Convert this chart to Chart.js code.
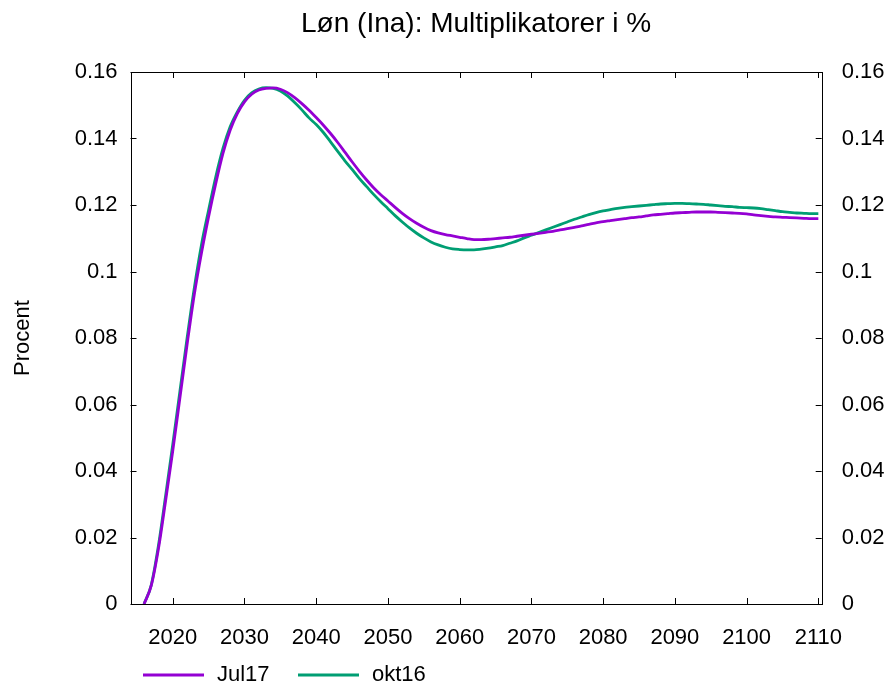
<!DOCTYPE html>
<html lang="da">
<head>
<meta charset="UTF-8">
<title>Løn (Ina): Multiplikatorer i %</title>
<script src="https://cdn.jsdelivr.net/npm/chart.js@4.4.0/dist/chart.umd.min.js"></script>
<style>
  html, body { margin: 0; padding: 0; background: #fff; }
  #wrap { width: 889px; height: 687px; }
</style>
</head>
<body>
<div id="wrap"><canvas id="chart" width="889" height="687"></canvas></div>
<script>
// years 2016..2110
const years = [];
for (let y = 2016; y <= 2110; y++) years.push(y);

const jul17 = [
  0, 0.0055, 0.0165, 0.031, 0.046, 0.062, 0.078, 0.093, 0.1055, 0.1165,
  0.1265, 0.1355, 0.1425, 0.1475, 0.151, 0.1533, 0.1546, 0.1551, 0.1552, 0.1548,
  0.1538, 0.1523, 0.1505, 0.1485, 0.1463, 0.1440, 0.1415, 0.1388, 0.1359, 0.1330,
  0.1302, 0.1276, 0.1252, 0.1231, 0.1212, 0.1193, 0.1175, 0.1159, 0.1145, 0.1133,
  0.1123, 0.1116, 0.1111, 0.1107, 0.1103, 0.1099, 0.1096, 0.1096, 0.1097, 0.1099,
  0.1101, 0.1103, 0.1106, 0.1109, 0.1112, 0.1115, 0.1118, 0.1121, 0.1125, 0.1129,
  0.1133, 0.1137, 0.1142, 0.1146, 0.1150, 0.1153, 0.1156, 0.1159, 0.1162, 0.1164,
  0.1167, 0.1170, 0.1172, 0.1174, 0.1176, 0.1177, 0.1178, 0.1179, 0.1179, 0.1179,
  0.1178, 0.1177, 0.1176, 0.1175, 0.1173, 0.1170, 0.1168, 0.1166, 0.1164, 0.1163,
  0.1162, 0.1161, 0.1160, 0.1159, 0.1159
];

const okt16 = [
  0, 0.0057, 0.0175, 0.0325, 0.048, 0.064, 0.080, 0.095, 0.108, 0.1185,
  0.1285, 0.137, 0.1435, 0.148, 0.1515, 0.1537, 0.1549, 0.1553, 0.1551, 0.1543,
  0.1528, 0.1508, 0.1486, 0.1462, 0.1442, 0.1418, 0.1390, 0.1361, 0.1333, 0.1307,
  0.1280, 0.1256, 0.1232, 0.1210, 0.1189, 0.1168, 0.1149, 0.1131, 0.1115, 0.1101,
  0.1089, 0.1080, 0.1073, 0.1068, 0.1066, 0.1065, 0.1065, 0.1067, 0.1070, 0.1074,
  0.1078, 0.1085, 0.1092, 0.1101, 0.1109, 0.1117, 0.1125, 0.1133, 0.1141, 0.1149,
  0.1157, 0.1164, 0.1171, 0.1177, 0.1182, 0.1186, 0.1190, 0.1193, 0.1195, 0.1197,
  0.1199, 0.1201, 0.1203, 0.1204, 0.1205, 0.1205, 0.1204, 0.1203, 0.1202, 0.1200,
  0.1198, 0.1196, 0.1195, 0.1193, 0.1192, 0.1191, 0.1189, 0.1186, 0.1183, 0.1180,
  0.1178, 0.1176, 0.1175, 0.1174, 0.1174
];

const seriesNames = ['Jul17', 'okt16'];
const seriesColors = ['#9400d3', '#009e73'];
const yTicks = [0, 0.02, 0.04, 0.06, 0.08, 0.1, 0.12, 0.14, 0.16];
const xTicks = [2020, 2030, 2040, 2050, 2060, 2070, 2080, 2090, 2100, 2110];
const titleText = 'Løn (Ina): Multiplikatorer i %';
const yTitle = 'Procent';

const FONT = 'Liberation Sans, Arial, sans-serif';

function pts(vals) {
  return years.map((y, i) => ({ x: y, y: vals[i] }));
}

// frame, inward ticks, title, legend and y title
const decor = {
  id: 'decor',
  afterDraw(chart) {
    const ctx = chart.ctx;
    const a = chart.chartArea;
    const xs = chart.scales.x, ys = chart.scales.y;
    ctx.save();
    ctx.strokeStyle = '#000';
    ctx.lineWidth = 1;
    ctx.strokeRect(Math.round(a.left) + 0.5, Math.round(a.top) + 0.5,
      Math.round(a.right - a.left), Math.round(a.bottom - a.top));
    ctx.beginPath();
    xTicks.forEach(v => {
      const px = Math.round(xs.getPixelForValue(v)) + 0.5;
      ctx.moveTo(px, a.bottom); ctx.lineTo(px, a.bottom - 6);
      ctx.moveTo(px, a.top); ctx.lineTo(px, a.top + 6);
    });
    yTicks.forEach(v => {
      const py = Math.round(ys.getPixelForValue(v)) + 0.5;
      ctx.moveTo(a.left, py); ctx.lineTo(a.left + 6, py);
      ctx.moveTo(a.right, py); ctx.lineTo(a.right - 6, py);
    });
    ctx.stroke();

    ctx.fillStyle = '#000';
    ctx.textBaseline = 'middle';

    // title
    ctx.font = '28px ' + FONT;
    ctx.textAlign = 'center';
    ctx.fillText(titleText, (a.left + a.right) / 2, 24);

    // y axis title
    ctx.font = '22px ' + FONT;
    ctx.translate(23, (a.top + a.bottom) / 2);
    ctx.rotate(-Math.PI / 2);
    ctx.fillText(yTitle, 0, 0);
    ctx.setTransform(1, 0, 0, 1, 0, 0);

    // legend
    chart.data.datasets.forEach((ds, i) => {
      const x0 = 143 + i * 155, y0 = 675;
      ctx.strokeStyle = ds.borderColor;
      ctx.lineWidth = 3;
      ctx.beginPath();
      ctx.moveTo(x0, y0); ctx.lineTo(x0 + 61, y0);
      ctx.stroke();
      ctx.fillStyle = '#000';
      ctx.textAlign = 'left';
      ctx.fillText(ds.label, x0 + 74, y0);
    });
    ctx.restore();
  }
};

const tickFont = { family: FONT, size: 22 };

new Chart(document.getElementById('chart'), {
  type: 'line',
  data: {
    datasets: [
      { label: seriesNames[0], data: pts(jul17), borderColor: seriesColors[0], borderWidth: 2.8, pointRadius: 0, cubicInterpolationMode: 'monotone', fill: false },
      { label: seriesNames[1], data: pts(okt16), borderColor: seriesColors[1], borderWidth: 2.8, pointRadius: 0, cubicInterpolationMode: 'monotone', fill: false }
    ]
  },
  options: {
    responsive: false,
    animation: false,
    events: [],
    layout: { padding: { top: 72 } },
    plugins: {
      legend: { display: false },
      tooltip: { enabled: false },
      title: { display: false }
    },
    scales: {
      x: {
        type: 'linear',
        min: 2014.11,
        max: 2110.47,
        grid: { display: false, drawTicks: false },
        border: { display: false },
        afterFit(s) { s.height = 83; },
        afterBuildTicks(s) { s.ticks = xTicks.map(v => ({ value: v })); },
        ticks: {
          color: '#000',
          font: tickFont,
          padding: 21,
          maxRotation: 0,
          autoSkip: false,
          callback: v => String(v)
        }
      },
      y: {
        min: 0,
        max: 0.16,
        grid: { display: false, drawTicks: false },
        border: { display: false },
        afterFit(s) { s.width = 130.5; },
        afterBuildTicks(s) { s.ticks = yTicks.map(v => ({ value: v })); },
        ticks: {
          color: '#000',
          font: tickFont,
          padding: 13,
          callback: v => String(+v.toFixed(2))
        }
      },
      y2: {
        position: 'right',
        min: 0,
        max: 0.16,
        grid: { display: false, drawTicks: false },
        border: { display: false },
        afterFit(s) { s.width = 67.3; },
        afterBuildTicks(s) { s.ticks = yTicks.map(v => ({ value: v })); },
        ticks: {
          color: '#000',
          font: tickFont,
          padding: 20,
          callback: v => String(+v.toFixed(2))
        }
      }
    }
  },
  plugins: [decor]
});
</script>
</body>
</html>
